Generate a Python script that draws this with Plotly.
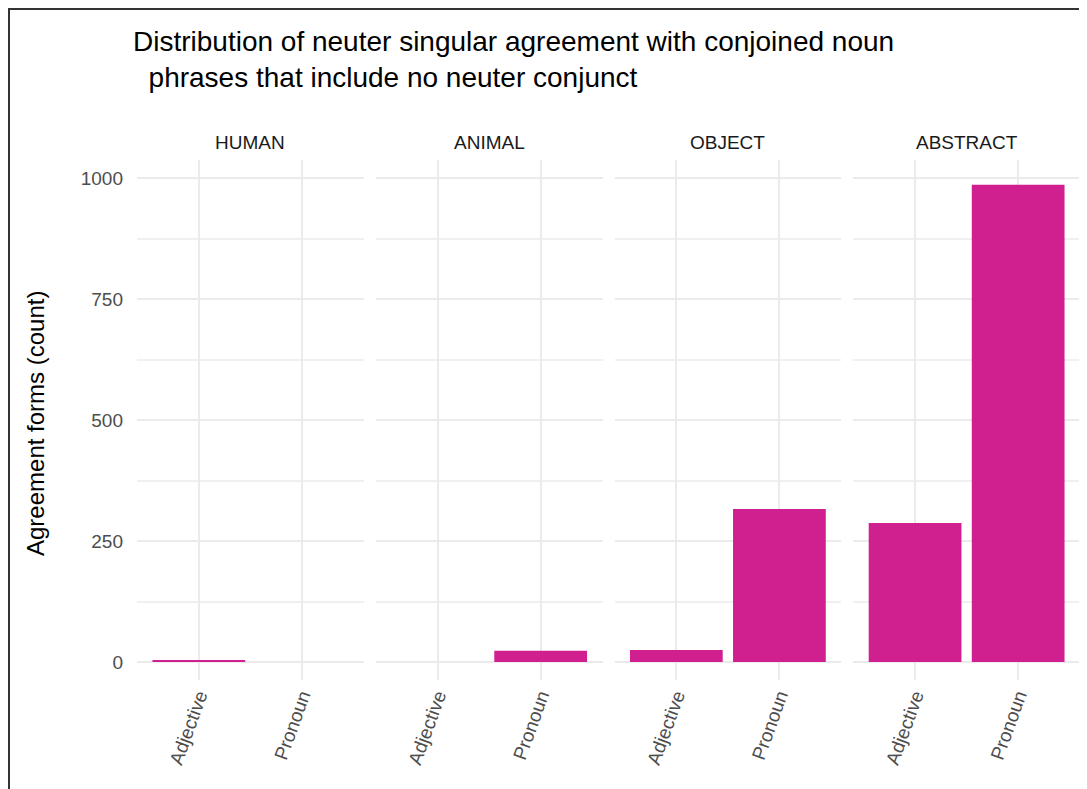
import plotly.graph_objects as go

# ---- data ----
panels = ["HUMAN", "ANIMAL", "OBJECT", "ABSTRACT"]
forms = ["Adjective", "Pronoun"]
adjective_counts = [3, 0, 25, 287]
pronoun_counts = [0, 23, 316, 986]
y_ticks = [0, 250, 500, 750, 1000]

BAR = "#D02090"
GRID = "#EBEBEB"
FONT = "Liberation Sans, Arial, sans-serif"

# page offset of the figure (body margin)
OFF = 8
W, H = 1079, 781
L, R, T, B = 137 - OFF, 7, 160 - OFF, 109
pw = W - L - R
ph = H - T - B

gap = 12 / pw
width = (1 - 3 * gap) / 4
domains = [[i * (width + gap), i * (width + gap) + width] for i in range(4)]
domains[-1][1] = 1.0

fig = go.Figure()
for i, p in enumerate(panels):
    sfx = "" if i == 0 else str(i + 1)
    fig.add_trace(go.Bar(
        x=forms, y=[adjective_counts[i], pronoun_counts[i]],
        xaxis="x" + sfx, yaxis="y" + sfx,
        marker=dict(color=BAR, line=dict(width=0)),
        width=0.9, showlegend=False, name=p,
    ))
    fig.layout["xaxis" + sfx] = dict(
        domain=domains[i], anchor="y" + sfx,
        type="category", categoryorder="array", categoryarray=forms,
        range=[-0.6, 1.6], tickangle=-70,
        showgrid=True, gridcolor=GRID, gridwidth=2,
        zeroline=False, showline=False, ticks="",
        tickfont=dict(family=FONT, size=19, color="#4D4D4D"),
        fixedrange=True,
    )
    fig.layout["yaxis" + sfx] = dict(
        anchor="x" + sfx, domain=[0, 1],
        range=[-37.2, 1037.2],
        tickvals=y_ticks, ticktext=[str(v) for v in y_ticks],
        showticklabels=(i == 0),
        showgrid=True, gridcolor=GRID, gridwidth=2,
        minor=dict(tickvals=[125, 375, 625, 875], showgrid=True,
                   gridcolor="#F0F0F0", gridwidth=1.5),
        zeroline=False, showline=False, ticks="",
        ticklabelstandoff=13,
        tickfont=dict(family=FONT, size=19, color="#4D4D4D"),
        fixedrange=True,
        **({} if i == 0 else {"matches": "y"}),
    )
    fig.add_annotation(
        text=p, xref="x" + sfx + " domain", yref="paper",
        x=0.5, y=(H - B - (143 - OFF)) / ph, xanchor="center", yanchor="middle",
        showarrow=False, font=dict(family=FONT, size=19, color="#1A1A1A"),
    )

# y-axis title
fig.add_annotation(
    text="Agreement forms (count)", xref="paper", yref="paper",
    x=(35 - OFF - L) / pw, y=(H - B - (424 - OFF)) / ph, textangle=-90,
    xanchor="center", yanchor="middle", showarrow=False,
    font=dict(family=FONT, size=24, color="#000000"),
)

# frame lines (top and left border of the original image)
fig.add_shape(type="line", xref="paper", yref="paper",
              x0=(0 - L) / pw, x1=(W - L) / pw,
              y0=(H - B - 1) / ph, y1=(H - B - 1) / ph,
              line=dict(color="#333333", width=2))
fig.add_shape(type="line", xref="paper", yref="paper",
              x0=(1 - L) / pw, x1=(1 - L) / pw,
              y0=(H - B - 1) / ph, y1=(H - B - H) / ph,
              line=dict(color="#333333", width=2))

fig.update_layout(
    width=W, height=H,
    margin=dict(l=L, r=R, t=T, b=B),
    paper_bgcolor="white", plot_bgcolor="white",
    bargap=0.1,
    title=dict(
        text="Distribution of neuter singular agreement with conjoined noun<br>\u00a0\u00a0phrases that include no neuter conjunct",
        x=(133 - OFF) / W, xanchor="left", xref="container",
        y=1 - 43 / H, yanchor="top", yref="container",
        font=dict(family=FONT, size=28, color="#000000"),
    ),
)

fig.write_html("out.html")
